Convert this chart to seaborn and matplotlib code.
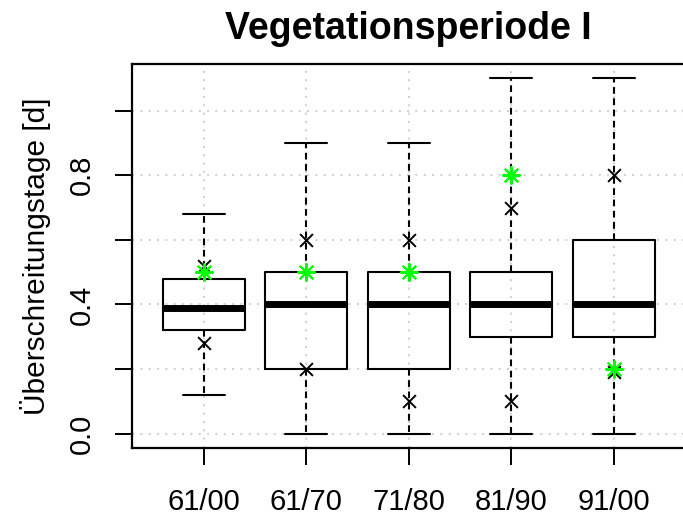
import numpy as np
import pandas as pd
import seaborn as sns
import matplotlib.pyplot as plt

# --- Werte ---
periods = ["61/00", "61/70", "71/80", "81/90", "91/00"]
whisker_low = [0.12, 0.0, 0.0, 0.0, 0.0]
q1 = [0.32, 0.2, 0.2, 0.3, 0.3]
median = [0.39, 0.4, 0.4, 0.4, 0.4]
q3 = [0.48, 0.5, 0.5, 0.5, 0.6]
whisker_high = [0.68, 0.9, 0.9, 1.1, 1.1]

black_upper = [0.52, 0.6, 0.6, 0.7, 0.8]
black_lower = [0.28, 0.2, 0.1, 0.1, 0.19]
green_mark = [0.5, 0.5, 0.5, 0.8, 0.2]

y_ticks = [0.0, 0.2, 0.4, 0.6, 0.8, 1.0]
y_ticklabels = ["0.0", "", "0.4", "", "0.8", ""]

# 5-Punkte-Zusammenfassung -> lange Tabelle (Quartile ergeben sich exakt)
rows = []
for i, p in enumerate(periods):
    for v in (whisker_low[i], q1[i], median[i], q3[i], whisker_high[i]):
        rows.append({"period": p, "value": v})
df = pd.DataFrame(rows)

sns.set_theme(style="white")
plt.rcParams["font.family"] = ["Liberation Sans", "DejaVu Sans"]
plt.rcParams["text.color"] = "black"
plt.rcParams["axes.labelcolor"] = "black"

fig = plt.figure(figsize=(6.83, 5.21), dpi=100)
ax = fig.add_axes([132 / 683, 1 - 448 / 521, 553.5 / 683, 384 / 521])

# Raster (gepunktet, hellgrau)
for y in y_ticks:
    ax.axhline(y, color="#D3D3D3", lw=1.5, ls=(0, (1, 3)), zorder=0)
for x in range(len(periods)):
    ax.axvline(x, color="#D3D3D3", lw=1.5, ls=(0, (1, 3)), zorder=0)

sns.boxplot(data=df, x="period", y="value", order=periods, ax=ax,
            fill=False, color="black", width=0.8, whis=(0, 100),
            linewidth=1.5, capwidths=0.41,
            boxprops=dict(color="black", linewidth=1.5),
            medianprops=dict(color="black", linewidth=5),
            whiskerprops=dict(color="black", linewidth=1.5, linestyle=(0, (3.2, 2.2))),
            capprops=dict(color="black", linewidth=1.5),
            showfliers=False)

pos = np.arange(len(periods))
sns.scatterplot(x=pos, y=black_upper, marker="x", color="black", s=85,
                linewidth=1.4, ax=ax, zorder=5)
sns.scatterplot(x=pos, y=black_lower, marker="x", color="black", s=85,
                linewidth=1.4, ax=ax, zorder=5)
sns.scatterplot(x=pos, y=green_mark, marker=(8, 2, 0), color="#00FF00", s=150,
                linewidth=1.5, ax=ax, zorder=6)

ax.set_xlim(-0.7, 4.7)
ax.set_ylim(-0.044, 1.144)
ax.set_yticks(y_ticks)
ax.set_yticklabels(y_ticklabels)
ax.set_xticks(pos)
ax.set_xticklabels(periods)

ax.tick_params(axis="both", direction="out", length=12, width=1.4,
               color="black", labelsize=21, labelcolor="black", pad=14,
               left=True, bottom=True)
ax.tick_params(axis="x", pad=17)
for lbl in ax.get_yticklabels():
    lbl.set_rotation(90)
    lbl.set_va("center")

for sp in ax.spines.values():
    sp.set_visible(True)
    sp.set_color("black")
    sp.set_linewidth(1.6)

ax.set_xlabel("")
ax.set_ylabel("Überschreitungstage [d]", fontsize=21.5, color="black", va="center")
ax.yaxis.set_label_coords((36 - 132) / 553.5, 0.5)
ax.set_title("Vegetationsperiode I", fontsize=27, fontweight="bold",
             color="black", pad=18)

fig.savefig("out.png", dpi=100)
